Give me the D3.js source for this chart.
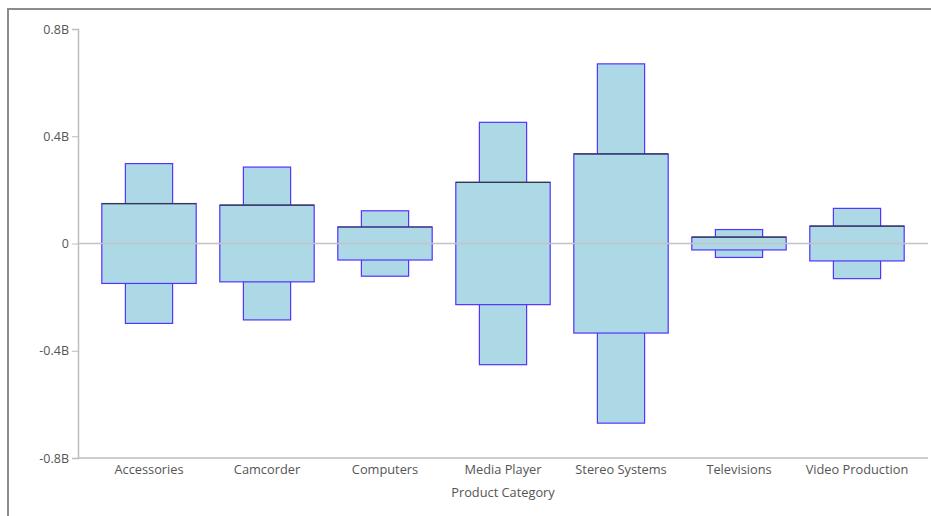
<!DOCTYPE html>
<html>
<head>
<meta charset="utf-8">
<script src="https://cdn.jsdelivr.net/npm/d3@7"></script>
<style>
  html, body { margin: 0; padding: 0; background: #fff; }
  svg { display: block; font-family: "Segoe UI", "Open Sans", "Noto Sans", sans-serif; }
</style>
</head>
<body>
<svg id="chart" width="931" height="516"></svg>
<script>
// ---- data ----
const categories = ["Accessories", "Camcorder", "Computers", "Media Player", "Stereo Systems", "Televisions", "Video Production"];
const innerHalf = [0.149, 0.143, 0.0616, 0.228, 0.334, 0.024, 0.065];   // wide box half-height (B)
const outerHalf = [0.298, 0.285, 0.122, 0.452, 0.670, 0.052, 0.131];   // narrow box half-height (B)
const yTicks = [-0.8, -0.4, 0, 0.4, 0.8];
const yTickLabels = ["-0.8B", "-0.4B", "0", "0.4B", "0.8B"];
const xTitle = "Product Category";

const svg = d3.select("#chart");
const FONT = "\"Segoe UI\", \"Open Sans\", sans-serif";

// frame
svg.append("rect")
  .attr("x", 8).attr("y", 9).attr("width", 940).attr("height", 520)
  .attr("fill", "none").attr("stroke", "#8c8c8c").attr("stroke-width", 2);

const mLeft = 78, mRight = 928, mTop = 29, mBottom = 458;
const y = d3.scaleLinear().domain([-0.8, 0.8]).range([mBottom, mTop]);
const x = d3.scaleBand().domain(categories).range([mLeft + 12, mRight - 12]).paddingInner(0).paddingOuter(0);

const bw = x.bandwidth();
const wideW = bw * 0.8, narrowW = bw * 0.4;

const data = categories.map((c, i) => ({ c, inner: innerHalf[i], outer: outerHalf[i] }));

const g = svg.append("g");
const fill = "#add8e6", stroke = "#5233ff";

// narrow boxes
g.selectAll("rect.narrow").data(data).join("rect")
  .attr("class", "narrow")
  .attr("x", d => x(d.c) + (bw - narrowW) / 2)
  .attr("width", narrowW)
  .attr("y", d => y(d.outer))
  .attr("height", d => y(-d.outer) - y(d.outer))
  .attr("fill", fill).attr("stroke", stroke).attr("stroke-width", 1.2);

// wide boxes
g.selectAll("rect.wide").data(data).join("rect")
  .attr("class", "wide")
  .attr("x", d => x(d.c) + (bw - wideW) / 2)
  .attr("width", wideW)
  .attr("y", d => y(d.inner))
  .attr("height", d => y(-d.inner) - y(d.inner))
  .attr("fill", fill).attr("stroke", stroke).attr("stroke-width", 1.2);

// top edge (dark)
g.selectAll("line.top").data(data).join("line")
  .attr("class", "top")
  .attr("x1", d => x(d.c) + (bw - wideW) / 2)
  .attr("x2", d => x(d.c) + (bw + wideW) / 2)
  .attr("y1", d => y(d.inner)).attr("y2", d => y(d.inner))
  .attr("stroke", "#333a40").attr("stroke-width", 1.2);

// zero line
svg.append("line")
  .attr("x1", mLeft).attr("x2", mRight)
  .attr("y1", y(0)).attr("y2", y(0))
  .attr("stroke", "#c4c4c4").attr("stroke-width", 1.5);

// y axis
const yAxis = d3.axisLeft(y).tickValues(yTicks)
  .tickFormat((d, i) => yTickLabels[i]).tickSize(6).tickPadding(3);
const ya = svg.append("g").attr("transform", `translate(${mLeft},0)`).call(yAxis);
ya.select(".domain").attr("stroke", "#bdbdbd").attr("stroke-width", 1.5);
ya.selectAll(".tick line").attr("stroke", "#bdbdbd");
ya.selectAll(".tick text").attr("fill", "#555").attr("font-size", 12.5)
  .attr("font-family", FONT);

// x axis
svg.append("line")
  .attr("x1", mLeft).attr("x2", mRight)
  .attr("y1", mBottom).attr("y2", mBottom)
  .attr("stroke", "#bdbdbd").attr("stroke-width", 1.5);
const xAxis = d3.axisBottom(x).tickSize(0).tickPadding(7);
const xa = svg.append("g").attr("transform", `translate(0,${mBottom})`).call(xAxis);
xa.select(".domain").remove();
xa.selectAll(".tick text").attr("fill", "#555").attr("font-size", 12.8)
  .attr("font-family", FONT);

svg.append("text")
  .attr("x", (mLeft + mRight) / 2).attr("y", 497)
  .attr("text-anchor", "middle")
  .attr("fill", "#555").attr("font-size", 12.8)
  .attr("font-family", FONT)
  .text(xTitle);
</script>
</body>
</html>
